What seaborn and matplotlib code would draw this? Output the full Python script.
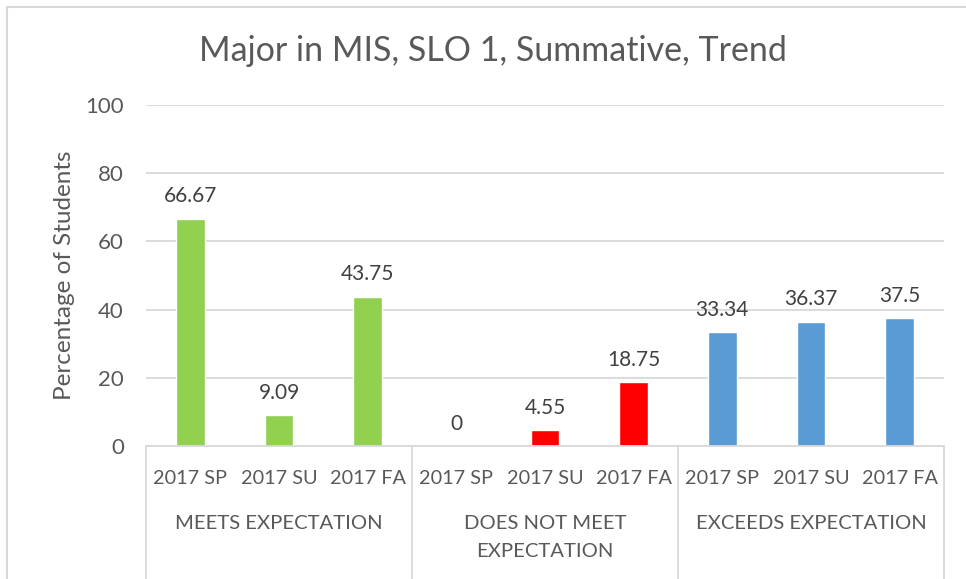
import matplotlib
matplotlib.use("Agg")
import matplotlib.pyplot as plt
import matplotlib.transforms as mtransforms
from matplotlib.lines import Line2D
import seaborn as sns
import pandas as pd

# Chart data
groups = ["MEETS EXPECTATION", "DOES NOT MEET\nEXPECTATION", "EXCEEDS EXPECTATION"]
terms = ["2017 SP", "2017 SU", "2017 FA"]
meets = [66.67, 9.09, 43.75]
does_not_meet = [0, 4.55, 18.75]
exceeds = [33.34, 36.37, 37.5]
value_labels = ["66.67", "9.09", "43.75", "0", "4.55", "18.75", "33.34", "36.37", "37.5"]
yticks = [0, 20, 40, 60, 80, 100]

colors = ["#92D050", "#FF0000", "#5B9BD5"]
text_gray = "#595959"
line_gray = "#D9D9D9"

rows = []
for g, vals in zip(groups, [meets, does_not_meet, exceeds]):
    for t, v in zip(terms, vals):
        rows.append({"group": g, "term": t, "slot": f"{g}|{t}", "value": v})
df = pd.DataFrame(rows)

sns.set_theme(style="white")
plt.rcParams["font.family"] = ["Lato", "DejaVu Sans"]

fig = plt.figure(figsize=(9.66, 5.79), dpi=100)
ax = fig.add_axes([146 / 966, 1 - 446 / 579, (944 - 146) / 966, (446 - 105) / 579])

sns.barplot(data=df, x="slot", y="value", hue="group", palette=colors,
            dodge=False, width=0.32, legend=False, ax=ax, saturation=1)

ax.set_ylim(0, 100)
ax.set_xlim(-0.5, len(df) - 0.5)
ax.set_yticks(yticks)
ax.set_yticklabels([str(v) for v in yticks], fontsize=16, color=text_gray)
ax.tick_params(axis="y", length=0, pad=16)
ax.yaxis.grid(True, color=line_gray, linewidth=1.3)
ax.set_axisbelow(True)
for side in ["left", "right", "top"]:
    ax.spines[side].set_visible(False)
ax.spines["bottom"].set_color(line_gray)
ax.spines["bottom"].set_linewidth(1.3)

ax.set_xticks(range(len(df)))
ax.set_xticklabels(list(df["term"]), fontsize=14.3, color=text_gray)
ax.tick_params(axis="x", length=0, pad=17)
ax.set_xlabel("")
ax.set_ylabel("Percentage of Students", fontsize=17.5, color=text_gray, labelpad=7)

# Value labels above bars
for i, (v, lab) in enumerate(zip(df["value"], value_labels)):
    ax.annotate(lab, (i, v), xytext=(0, 9), textcoords="offset points",
                ha="center", va="bottom", fontsize=15, color="#404040")

# Group labels and dividers of the two-level category axis
trans = mtransforms.blended_transform_factory(ax.transData, ax.transAxes)
axis_h_px = 446 - 105
for k, g in enumerate(groups):
    ax.text(3 * k + 1, -(515 - 446) / axis_h_px, g, transform=trans,
            ha="center", va="top", fontsize=14.6, color=text_gray,
            linespacing=1.8)
for xdiv in [-0.5, 2.5, 5.5, 8.5]:
    ax.add_line(Line2D([xdiv, xdiv], [0, -(579 - 446) / axis_h_px], transform=trans,
                       color=line_gray, linewidth=1.3, clip_on=False))

# Chart title
fig.text(493 / 966, 1 - 51 / 579, "Major in MIS, SLO 1, Summative, Trend",
         ha="center", va="center", fontsize=24.5, color=text_gray)

# Outer chart border
fig.add_artist(Line2D([7 / 966, 1], [1 - 7 / 579, 1 - 7 / 579], transform=fig.transFigure,
                      color=line_gray, linewidth=1.5))
fig.add_artist(Line2D([7 / 966, 7 / 966], [0, 1 - 7 / 579], transform=fig.transFigure,
                      color=line_gray, linewidth=1.5))

fig.savefig("out.png", dpi=100, facecolor="white")
